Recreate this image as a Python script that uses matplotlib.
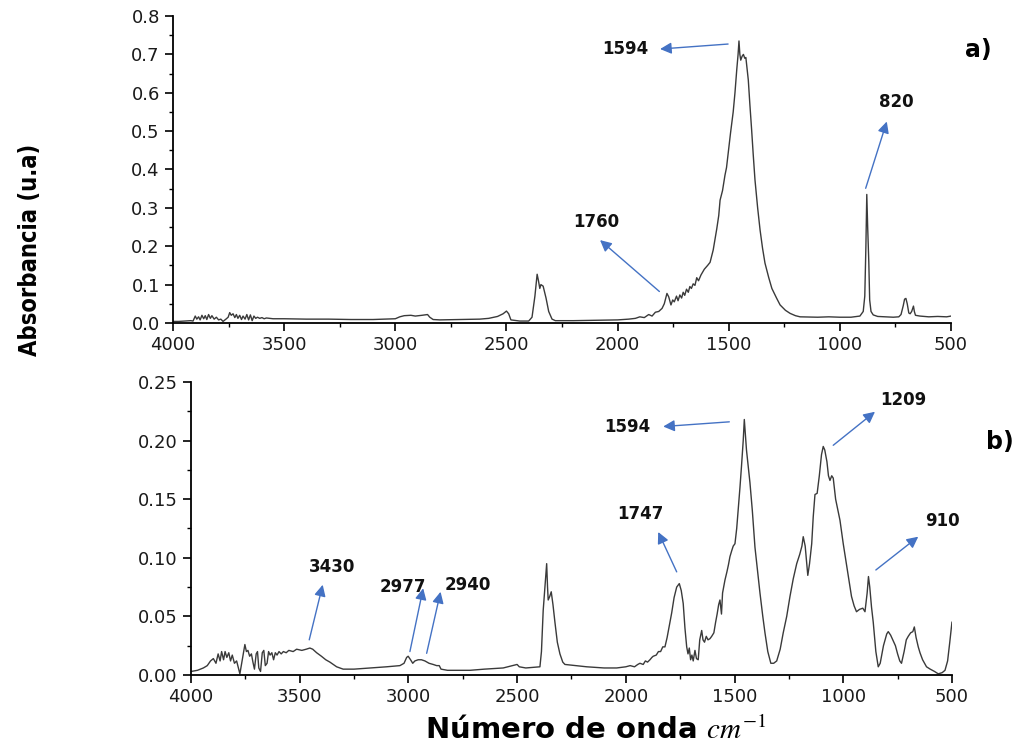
import numpy as np
import matplotlib
matplotlib.use("Agg")
import matplotlib.pyplot as plt
from matplotlib.ticker import MultipleLocator

# espectro a) - numero de onda (cm-1) e absorbancia
top_wn = [4000, 3975, 3950, 3920, 3910, 3900, 3893, 3885, 3878, 3870, 3862, 3855, 3848, 3840, 3832,
          3825, 3815, 3805, 3795, 3785, 3775, 3762, 3752, 3745, 3738, 3730, 3722, 3715, 3708, 3700,
          3692, 3685, 3676, 3668, 3660, 3652, 3644, 3636, 3628, 3620, 3610, 3600, 3590, 3580, 3565,
          3550, 3500, 3400, 3300, 3200, 3100, 3000, 2980, 2960, 2930, 2910, 2880, 2855, 2845, 2830,
          2800, 2700, 2620, 2580, 2540, 2515, 2500, 2490, 2480, 2440, 2400, 2385, 2372, 2362, 2356,
          2350, 2345, 2335, 2322, 2310, 2295, 2280, 2200, 2100, 2000, 1950, 1920, 1900, 1880, 1860,
          1845, 1830, 1815, 1800, 1790, 1778, 1770, 1760, 1752, 1745, 1735, 1728, 1720, 1712, 1705,
          1698, 1690, 1682, 1675, 1668, 1660, 1652, 1644, 1636, 1625, 1610, 1595, 1584, 1570, 1560,
          1554, 1545, 1539, 1528, 1517, 1510, 1502, 1492, 1480, 1472, 1464, 1458, 1454, 1450, 1446,
          1440, 1434, 1428, 1423, 1418, 1412, 1405, 1397, 1390, 1382, 1370, 1359, 1348, 1337, 1320,
          1306, 1285, 1269, 1245, 1224, 1200, 1179, 1100, 1050, 1000, 950, 910, 895, 888, 883,
          879, 875, 870, 866, 860, 850, 830, 760, 735, 725, 715, 709, 703, 697, 690,
          684, 677, 669, 665, 660, 640, 600, 560, 520, 500]
top_abs = [0.004, 0.004, 0.005, 0.006, 0.005, 0.018, 0.010, 0.016, 0.008, 0.020, 0.011, 0.019, 0.009, 0.022, 0.012,
           0.019, 0.010, 0.015, 0.008, 0.010, 0.004, 0.010, 0.015, 0.027, 0.020, 0.024, 0.014, 0.022, 0.012, 0.020,
           0.009, 0.018, 0.010, 0.022, 0.008, 0.021, 0.006, 0.018, 0.012, 0.015, 0.012, 0.014, 0.011, 0.013, 0.012,
           0.011, 0.011, 0.010, 0.010, 0.009, 0.009, 0.011, 0.016, 0.019, 0.020, 0.018, 0.020, 0.022, 0.015, 0.009,
           0.008, 0.009, 0.010, 0.012, 0.017, 0.024, 0.031, 0.024, 0.008, 0.005, 0.005, 0.015, 0.070, 0.127, 0.110,
           0.090, 0.100, 0.096, 0.065, 0.030, 0.010, 0.006, 0.006, 0.007, 0.008, 0.010, 0.012, 0.016, 0.014, 0.022,
           0.018, 0.028, 0.030, 0.038, 0.050, 0.077, 0.068, 0.047, 0.060, 0.055, 0.070, 0.058, 0.073, 0.065, 0.080,
           0.072, 0.088, 0.080, 0.095, 0.090, 0.102, 0.098, 0.118, 0.110, 0.125, 0.140, 0.150, 0.158, 0.190, 0.225,
           0.245, 0.280, 0.320, 0.345, 0.385, 0.405, 0.445, 0.495, 0.550, 0.600, 0.660, 0.700, 0.735, 0.700, 0.685,
           0.695, 0.700, 0.690, 0.692, 0.665, 0.633, 0.570, 0.503, 0.440, 0.373, 0.300, 0.242, 0.195, 0.156, 0.118,
           0.090, 0.065, 0.047, 0.033, 0.025, 0.019, 0.016, 0.015, 0.016, 0.015, 0.015, 0.018, 0.030, 0.070, 0.200,
           0.335, 0.250, 0.160, 0.060, 0.030, 0.021, 0.017, 0.015, 0.016, 0.022, 0.045, 0.062, 0.064, 0.050, 0.026,
           0.024, 0.030, 0.044, 0.030, 0.020, 0.018, 0.016, 0.017, 0.016, 0.018]

# espectro b)
bot_wn = [4000, 3970, 3943, 3925, 3910, 3897, 3885, 3875, 3866, 3859, 3850, 3843, 3835, 3826, 3818,
          3810, 3800, 3790, 3782, 3775, 3765, 3752, 3745, 3738, 3730, 3722, 3715, 3708, 3700, 3694,
          3688, 3680, 3672, 3665, 3658, 3650, 3643, 3636, 3628, 3620, 3612, 3604, 3595, 3585, 3575,
          3562, 3550, 3530, 3514, 3490, 3470, 3453, 3440, 3422, 3400, 3380, 3361, 3330, 3300, 3250,
          3177, 3100, 3039, 3020, 3008, 3001, 2990, 2980, 2970, 2955, 2940, 2924, 2905, 2886, 2870,
          2858, 2850, 2820, 2717, 2650, 2564, 2520, 2500, 2490, 2460, 2395, 2388, 2380, 2370, 2364,
          2360, 2357, 2350, 2343, 2335, 2326, 2315, 2303, 2290, 2280, 2180, 2100, 2042, 2000, 1980,
          1960, 1945, 1935, 1920, 1910, 1900, 1889, 1880, 1874, 1860, 1850, 1840, 1830, 1820, 1810,
          1800, 1789, 1778, 1766, 1754, 1745, 1736, 1728, 1720, 1714, 1708, 1702, 1696, 1690, 1682,
          1675, 1667, 1660, 1651, 1645, 1638, 1630, 1622, 1613, 1605, 1595, 1587, 1580, 1573, 1567,
          1560, 1555, 1544, 1535, 1528, 1521, 1513, 1506, 1498, 1490, 1483, 1475, 1468, 1460, 1455,
          1450, 1445, 1437, 1429, 1418, 1406, 1395, 1383, 1370, 1360, 1347, 1333, 1320, 1306, 1290,
          1276, 1260, 1245, 1230, 1214, 1200, 1190, 1184, 1175, 1168, 1163, 1155, 1145, 1138, 1130,
          1120, 1110, 1100, 1092, 1085, 1075, 1068, 1061, 1053, 1046, 1035, 1015, 1000, 980, 962,
          950, 939, 925, 910, 900, 890, 884, 878, 870, 862, 850, 839, 830, 815, 800,
          793, 782, 770, 760, 750, 740, 732, 720, 710, 701, 690, 680, 673, 665, 655,
          647, 635, 617, 600, 580, 563, 545, 532, 520, 510, 500]
bot_abs = [0.003, 0.004, 0.006, 0.008, 0.012, 0.014, 0.010, 0.018, 0.012, 0.020, 0.013, 0.020, 0.015, 0.019, 0.012,
           0.017, 0.010, 0.012, 0.006, 0.001, 0.012, 0.026, 0.020, 0.021, 0.016, 0.018, 0.011, 0.005, 0.018, 0.020,
           0.006, 0.003, 0.019, 0.021, 0.008, 0.010, 0.020, 0.017, 0.019, 0.013, 0.019, 0.017, 0.020, 0.018, 0.020,
           0.019, 0.021, 0.020, 0.022, 0.021, 0.022, 0.023, 0.022, 0.019, 0.016, 0.013, 0.011, 0.007, 0.005, 0.005,
           0.006, 0.007, 0.008, 0.010, 0.015, 0.016, 0.013, 0.010, 0.012, 0.013, 0.013, 0.012, 0.010, 0.009, 0.008,
           0.008, 0.005, 0.004, 0.004, 0.005, 0.006, 0.008, 0.009, 0.007, 0.006, 0.007, 0.020, 0.055, 0.080, 0.095,
           0.075, 0.064, 0.067, 0.071, 0.060, 0.045, 0.028, 0.018, 0.011, 0.009, 0.007, 0.006, 0.006, 0.007, 0.008,
           0.007, 0.009, 0.010, 0.009, 0.012, 0.011, 0.013, 0.015, 0.016, 0.017, 0.020, 0.020, 0.024, 0.024, 0.032,
           0.042, 0.053, 0.066, 0.075, 0.078, 0.072, 0.061, 0.040, 0.024, 0.018, 0.023, 0.013, 0.017, 0.012, 0.021,
           0.014, 0.013, 0.030, 0.038, 0.030, 0.028, 0.033, 0.030, 0.031, 0.033, 0.036, 0.045, 0.052, 0.060, 0.064,
           0.052, 0.070, 0.081, 0.088, 0.094, 0.101, 0.106, 0.110, 0.112, 0.125, 0.141, 0.160, 0.178, 0.200, 0.218,
           0.205, 0.192, 0.178, 0.164, 0.140, 0.109, 0.090, 0.070, 0.050, 0.036, 0.020, 0.010, 0.010, 0.012, 0.022,
           0.036, 0.050, 0.067, 0.082, 0.095, 0.103, 0.110, 0.118, 0.110, 0.095, 0.085, 0.095, 0.112, 0.135, 0.154,
           0.155, 0.170, 0.188, 0.195, 0.192, 0.182, 0.170, 0.166, 0.170, 0.168, 0.150, 0.132, 0.112, 0.088, 0.067,
           0.059, 0.054, 0.056, 0.057, 0.054, 0.070, 0.084, 0.075, 0.058, 0.045, 0.020, 0.007, 0.010, 0.025, 0.035,
           0.037, 0.034, 0.029, 0.025, 0.018, 0.012, 0.010, 0.020, 0.030, 0.033, 0.036, 0.037, 0.041, 0.032, 0.024,
           0.019, 0.013, 0.007, 0.005, 0.003, 0.001, 0.002, 0.004, 0.012, 0.028, 0.045]

# anotacoes: (texto, posicao do texto, cauda da seta, ponta da seta)
top_notes = [("1594", (1966, 0.714), (1503, 0.727), (1809, 0.714)),
             ("1760", (2097, 0.264), (1812, 0.082), (2079, 0.216)),
             ("820", (744, 0.577), (884, 0.351), (789, 0.525))]
bot_notes = [("1594", (1993, 0.212), (1524, 0.216), (1828, 0.212)),
             ("1209", (724, 0.2346), (1046, 0.196), (854, 0.2246)),
             ("1747", (1935, 0.137), (1766, 0.088), (1851, 0.122)),
             ("910", (544, 0.131), (850, 0.0896), (655, 0.118)),
             ("3430", (3353, 0.0919), (3456, 0.030), (3394, 0.077)),
             ("2977", (3027, 0.0748), (2993, 0.020), (2932, 0.074)),
             ("2940", (2726, 0.0768), (2916, 0.0185), (2852, 0.071))]

arrow_color = "#4472C4"
line_color = "#3a3a3a"

plt.rcParams["mathtext.fontset"] = "stix"

fig = plt.figure(figsize=(10.19, 7.49), dpi=100)
ax1 = fig.add_axes([0.1698, 0.5688, 0.7635, 0.4098])
ax2 = fig.add_axes([0.1874, 0.0988, 0.7468, 0.3912])


def style_axis(ax, ymax, ymajor, fmt):
    ax.set_xlim(4000, 500)
    ax.set_ylim(0, ymax)
    ax.xaxis.set_major_locator(MultipleLocator(500))
    ax.xaxis.set_minor_locator(MultipleLocator(250))
    ax.yaxis.set_major_locator(MultipleLocator(ymajor))
    ax.yaxis.set_minor_locator(MultipleLocator(ymajor / 2))
    ax.yaxis.set_major_formatter(plt.FormatStrFormatter(fmt))
    for s in ["top", "right"]:
        ax.spines[s].set_visible(False)
    for s in ["left", "bottom"]:
        ax.spines[s].set_linewidth(1.3)
    ax.tick_params(which="major", direction="out", length=6, width=1.2,
                   labelsize=13, labelcolor="#1a1a1a")
    ax.tick_params(which="minor", direction="out", length=3, width=1.0)
    for lab in ax.get_xticklabels() + ax.get_yticklabels():
        lab.set_family("DejaVu Sans")


def add_notes(ax, notes):
    for txt, tpos, tail, head in notes:
        ax.annotate("", xy=head, xytext=tail,
                    arrowprops=dict(arrowstyle="-|>", color=arrow_color, lw=1.0,
                                    mutation_scale=17, shrinkA=0, shrinkB=0))
        ax.text(tpos[0], tpos[1], txt, ha="center", va="center", fontsize=12,
                fontweight="bold", family="DejaVu Sans", color="#111111")


ax1.plot(top_wn, top_abs, color=line_color, lw=1.0)
style_axis(ax1, 0.8, 0.1, "%.1f")
add_notes(ax1, top_notes)

ax2.plot(bot_wn, bot_abs, color=line_color, lw=1.0)
style_axis(ax2, 0.25, 0.05, "%.2f")
add_notes(ax2, bot_notes)

fig.text(0.960, 0.933, "a)", ha="center", va="center", fontsize=17,
         fontweight="bold", family="DejaVu Sans")
fig.text(0.981, 0.410, "b)", ha="center", va="center", fontsize=17,
         fontweight="bold", family="DejaVu Sans")

fig.text(0.029, 0.666, "Absorbancia (u.a)", rotation=90, ha="center", va="center",
         fontsize=17, fontweight="bold", fontstretch="condensed",
         family=["Liberation Sans Narrow", "DejaVu Sans"])

fig.text(0.585, 0.024, "Número de onda $cm^{-1}$", ha="center", va="center",
         fontsize=21, fontweight="bold", family="DejaVu Sans")

fig.savefig("out.png", dpi=100)
